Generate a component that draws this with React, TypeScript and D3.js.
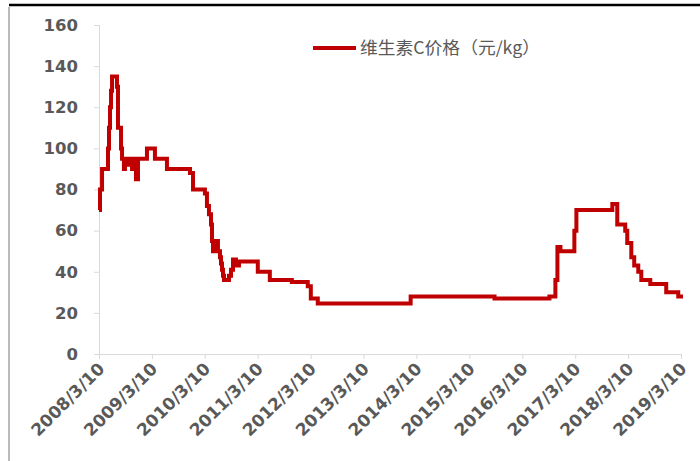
import { useEffect, useRef } from "react"
import * as d3 from "d3"

// price series (date, yuan/kg)
const dates = [
  "2008-03-10", "2008-03-17", "2008-03-31", "2008-05-04", "2008-05-11", "2008-05-18",
  "2008-05-25", "2008-06-01", "2008-06-08", "2008-07-12", "2008-07-19", "2008-08-09",
  "2008-08-16", "2008-08-29", "2008-09-05", "2008-09-26", "2008-10-10", "2008-10-24",
  "2008-11-06", "2008-11-20", "2008-12-04", "2009-02-04", "2009-03-31", "2009-06-22",
  "2009-11-28", "2009-12-19", "2010-03-11", "2010-03-25", "2010-04-08", "2010-04-22",
  "2010-04-29", "2010-05-06", "2010-05-19", "2010-06-09", "2010-06-23", "2010-06-30",
  "2010-07-07", "2010-07-14", "2010-07-21", "2010-08-24", "2010-09-07", "2010-09-21",
  "2010-10-11", "2010-11-01", "2011-03-11", "2011-06-02", "2011-11-01", "2012-02-19",
  "2012-03-11", "2012-04-28", "2014-01-29", "2015-08-31", "2016-09-13", "2016-10-24",
  "2016-11-07", "2016-11-28", "2017-03-04", "2017-03-18", "2017-11-21", "2017-12-25",
  "2018-02-18", "2018-03-04", "2018-04-01", "2018-04-21", "2018-05-19", "2018-06-09",
  "2018-08-10", "2018-11-28", "2019-02-19", "2019-03-10",
]
const prices = [
  70, 80, 90, 90, 100, 110,
  120, 128, 135, 130, 110, 100,
  95, 90, 95, 92, 95, 90,
  95, 85, 95, 100, 95, 90,
  88, 80, 78, 72, 68, 63,
  55, 50, 55, 50, 47, 44,
  41, 38, 36, 38, 41, 46,
  43, 45, 40, 36, 35, 33,
  27, 24.5, 28, 27, 28, 36,
  52, 50, 60, 70, 73, 63,
  60, 54, 47, 43, 40, 36,
  34, 30, 28, 27,
]
const xTickLabels = [
  "2008/3/10", "2009/3/10", "2010/3/10", "2011/3/10", "2012/3/10", "2013/3/10",
  "2014/3/10", "2015/3/10", "2016/3/10", "2017/3/10", "2018/3/10", "2019/3/10",
]
const yTicks = [0, 20, 40, 60, 80, 100, 120, 140, 160]
const seriesName = "维生素C价格（元/kg）"

export default function App() {
  const svgRef = useRef<SVGSVGElement>(null)

  useEffect(() => {
    const svg = d3.select(svgRef.current)
    const width = 700
    const height = 461
    const margin = { top: 25, right: 19, bottom: 107, left: 99 }
    const parse = d3.timeParse("%Y-%m-%d")
    const tickParse = d3.timeParse("%Y/%m/%d")
    const data = dates.map((d, i) => ({ t: parse(d) as Date, v: prices[i] }))
    const tickDates = xTickLabels.map(s => tickParse(s) as Date)

    svg.selectAll("*").remove()

    const x = d3
      .scaleTime()
      .domain([tickDates[0], tickDates[tickDates.length - 1]])
      .range([margin.left, width - margin.right])

    const y = d3
      .scaleLinear()
      .domain([0, 160])
      .range([height - margin.bottom, margin.top])

    // outer frame bits
    svg.append("line")
      .attr("x1", 9).attr("x2", width).attr("y1", 5).attr("y2", 5)
      .attr("stroke", "#000").attr("stroke-width", 2.5)
    svg.append("line")
      .attr("x1", 9).attr("x2", 9).attr("y1", 7).attr("y2", height)
      .attr("stroke", "#8c8c8c").attr("stroke-width", 1.2)

    const font = "'DejaVu Sans', sans-serif"

    // y axis
    const yAxis = svg.append("g")
      .attr("transform", `translate(${margin.left},0)`)
      .call(d3.axisLeft(y).tickValues(yTicks).tickSize(5).tickPadding(16))
    yAxis.select(".domain").attr("stroke", "#d9d9d9")
    yAxis.selectAll(".tick line").attr("stroke", "#d9d9d9")
    yAxis.selectAll("text")
      .attr("fill", "#595959")
      .attr("font-family", font)
      .attr("font-weight", "bold")
      .attr("font-size", 16.5)

    // x axis
    const xAxis = svg.append("g")
      .attr("transform", `translate(0,${height - margin.bottom})`)
      .call(d3.axisBottom(x)
        .tickValues(tickDates)
        .tickSize(5)
        .tickFormat((_, i) => xTickLabels[i]))
    xAxis.select(".domain").attr("stroke", "#d9d9d9")
    xAxis.selectAll(".tick line").attr("stroke", "#d9d9d9")
    xAxis.selectAll("text")
      .attr("fill", "#595959")
      .attr("font-family", font)
      .attr("font-weight", "bold")
      .attr("font-size", 17)
      .attr("text-anchor", "end")
      .attr("dy", null)
      .attr("y", 0)
      .attr("transform", "translate(6,16) rotate(-45)")

    // line
    const line = d3.line<{ t: Date; v: number }>()
      .x(d => x(d.t))
      .y(d => y(d.v))
      .curve(d3.curveStepAfter)

    svg.append("path")
      .datum(data)
      .attr("fill", "none")
      .attr("stroke", "#c00000")
      .attr("stroke-width", 4)
      .attr("stroke-linejoin", "miter")
      .attr("d", line)

    // legend
    const lg = svg.append("g").attr("transform", "translate(313,48)")
    lg.append("line")
      .attr("x1", 0).attr("x2", 43).attr("y1", 0).attr("y2", 0)
      .attr("stroke", "#c00000").attr("stroke-width", 4)
    lg.append("text")
      .attr("x", 47).attr("y", 6)
      .attr("fill", "#595959")
      .attr("font-family", "'Noto Sans CJK SC', sans-serif")
      .attr("font-size", 17)
      .attr("textLength", 180)
      .attr("lengthAdjust", "spacingAndGlyphs")
      .text(seriesName)
  }, [])

  return (
    <div style={{ position: "fixed", left: 0, top: 0, background: "#fff" }}>
      <svg ref={svgRef} width={700} height={461} style={{ display: "block" }} />
    </div>
  )
}
